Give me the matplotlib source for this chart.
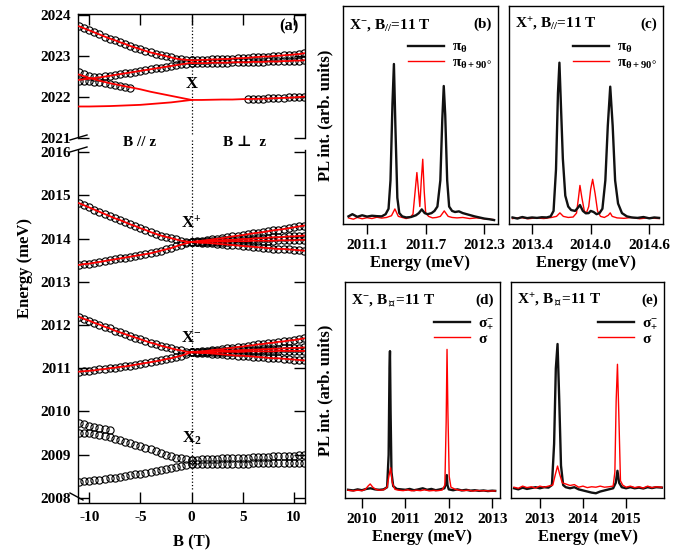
import numpy as np
import matplotlib
matplotlib.use('Agg')
import matplotlib.pyplot as plt
from matplotlib.lines import Line2D

plt.rcParams['font.family'] = ['Liberation Serif', 'DejaVu Serif']
plt.rcParams['font.weight'] = 'bold'
plt.rcParams['axes.labelweight'] = 'bold'
plt.rcParams['mathtext.fontset'] = 'custom'
plt.rcParams['mathtext.rm'] = 'Liberation Serif'
plt.rcParams['mathtext.it'] = 'Liberation Serif:italic'
plt.rcParams['mathtext.bf'] = 'Liberation Serif:bold'
plt.rcParams['mathtext.fallback'] = 'stix'
plt.rcParams['axes.unicode_minus'] = False

# ---------------- panel (a): energies vs field ----------------
B_left = np.arange(-11, 0.01, 0.5)   # B // z
B_right = np.arange(0, 11.01, 0.5)   # B perp z
B_fit_left = np.arange(-11, 0.01, 1.0)
B_fit_right = np.arange(0, 11.01, 1.0)

# neutral exciton X
x_up_l = [2023.73, 2023.68, 2023.63, 2023.58, 2023.53, 2023.48, 2023.43, 2023.39, 2023.34, 2023.30, 2023.25, 2023.21,
          2023.17, 2023.13, 2023.09, 2023.06, 2023.03, 2023.00, 2022.97, 2022.94, 2022.92, 2022.91, 2022.90]
x_mid_l = [2022.62, 2022.56, 2022.52, 2022.50, 2022.50, 2022.51, 2022.52, 2022.54, 2022.56, 2022.58, 2022.60, 2022.62,
           2022.64, 2022.66, 2022.68, 2022.70, 2022.72, 2022.74, 2022.76, 2022.78, 2022.80, 2022.82, 2022.84]
x_low_l = [2022.40, 2022.40, 2022.39, 2022.38, 2022.36, 2022.34, 2022.32, 2022.29, 2022.27, 2022.25, 2022.23]
x_up_r = [2022.90, 2022.90, 2022.91, 2022.91, 2022.92, 2022.92, 2022.93, 2022.93, 2022.94, 2022.95, 2022.95, 2022.96,
          2022.97, 2022.98, 2022.99, 2022.99, 2023.00, 2023.01, 2023.02, 2023.03, 2023.04, 2023.05, 2023.07]
x_mid_r = [2022.83, 2022.83, 2022.83, 2022.83, 2022.84, 2022.84, 2022.84, 2022.84, 2022.85, 2022.85, 2022.85, 2022.85,
           2022.86, 2022.86, 2022.86, 2022.87, 2022.87, 2022.87, 2022.88, 2022.88, 2022.89, 2022.89, 2022.90]
x_low_r = [2021.95, 2021.95, 2021.96, 2021.96, 2021.97, 2021.97, 2021.98, 2021.98, 2021.99, 2021.99, 2022.00, 2022.00]
# fitted curves for X
fit_x_b = [2022.42, 2022.45, 2022.48, 2022.52, 2022.56, 2022.60, 2022.64, 2022.68, 2022.72, 2022.76, 2022.80, 2022.84]
fit_x_c = [2022.55, 2022.47, 2022.40, 2022.34, 2022.29, 2022.24, 2022.19, 2022.13, 2022.08, 2022.03, 2021.98, 2021.93]
fit_x_d = [2021.77, 2021.77, 2021.775, 2021.78, 2021.79, 2021.80, 2021.81, 2021.83, 2021.85, 2021.87, 2021.90, 2021.93]
fit_x_e = [2021.93, 2021.93, 2021.935, 2021.94, 2021.94, 2021.95, 2021.955, 2021.96, 2021.97, 2021.98, 2021.99, 2022.01]

# positive trion X+
xp_up_l = [2014.82, 2014.77, 2014.72, 2014.67, 2014.62, 2014.57, 2014.52, 2014.47, 2014.43, 2014.38, 2014.33, 2014.29,
           2014.24, 2014.20, 2014.15, 2014.11, 2014.07, 2014.04, 2014.01, 2013.98, 2013.95, 2013.93, 2013.92]
xp_low_l = [2013.39, 2013.41, 2013.42, 2013.44, 2013.46, 2013.48, 2013.50, 2013.52, 2013.54, 2013.56, 2013.58, 2013.60,
            2013.62, 2013.64, 2013.66, 2013.69, 2013.72, 2013.75, 2013.78, 2013.82, 2013.86, 2013.89, 2013.92]
xp_r1 = [2013.92, 2013.935, 2013.95, 2013.965, 2013.98, 2013.995, 2014.01, 2014.03, 2014.05, 2014.065, 2014.08, 2014.10,
         2014.12, 2014.135, 2014.15, 2014.17, 2014.19, 2014.205, 2014.22, 2014.24, 2014.26, 2014.28, 2014.30]
xp_r2 = [2013.92, 2013.93, 2013.93, 2013.94, 2013.95, 2013.95, 2013.96, 2013.97, 2013.97, 2013.98, 2013.99, 2013.99,
         2014.00, 2014.01, 2014.01, 2014.02, 2014.03, 2014.03, 2014.04, 2014.05, 2014.05, 2014.06, 2014.07]
xp_r3 = [2013.92, 2013.92, 2013.92, 2013.93, 2013.93, 2013.93, 2013.93, 2013.93, 2013.94, 2013.94, 2013.94, 2013.94,
         2013.95, 2013.95, 2013.95, 2013.95, 2013.95, 2013.96, 2013.96, 2013.96, 2013.96, 2013.97, 2013.97]
xp_r4 = [2013.92, 2013.91, 2013.90, 2013.90, 2013.89, 2013.88, 2013.87, 2013.86, 2013.85, 2013.84, 2013.83, 2013.82,
         2013.81, 2013.80, 2013.79, 2013.78, 2013.77, 2013.76, 2013.76, 2013.75, 2013.74, 2013.73, 2013.72]

# negative trion X-
xm_up_l = [2012.19, 2012.14, 2012.10, 2012.05, 2012.01, 2011.96, 2011.92, 2011.87, 2011.83, 2011.79, 2011.75, 2011.71,
           2011.67, 2011.63, 2011.59, 2011.56, 2011.52, 2011.49, 2011.46, 2011.43, 2011.41, 2011.38, 2011.37]
xm_low_l = [2010.92, 2010.93, 2010.94, 2010.95, 2010.97, 2010.98, 2011.00, 2011.01, 2011.03, 2011.04, 2011.06, 2011.08,
            2011.10, 2011.12, 2011.14, 2011.16, 2011.18, 2011.21, 2011.23, 2011.26, 2011.29, 2011.33, 2011.37]
xm_r1 = [2011.37, 2011.38, 2011.39, 2011.40, 2011.42, 2011.43, 2011.44, 2011.46, 2011.47, 2011.49, 2011.50, 2011.52,
         2011.53, 2011.55, 2011.56, 2011.58, 2011.59, 2011.61, 2011.62, 2011.64, 2011.65, 2011.67, 2011.69]
xm_r2 = [2011.37, 2011.37, 2011.38, 2011.38, 2011.39, 2011.39, 2011.40, 2011.40, 2011.41, 2011.41, 2011.42, 2011.42,
         2011.43, 2011.43, 2011.44, 2011.44, 2011.45, 2011.45, 2011.46, 2011.46, 2011.47, 2011.47, 2011.48]
xm_r3 = [2011.37, 2011.37, 2011.37, 2011.37, 2011.37, 2011.38, 2011.38, 2011.38, 2011.38, 2011.38, 2011.38, 2011.39,
         2011.39, 2011.39, 2011.39, 2011.39, 2011.39, 2011.40, 2011.40, 2011.40, 2011.40, 2011.40, 2011.40]
xm_r4 = [2011.37, 2011.36, 2011.35, 2011.35, 2011.34, 2011.33, 2011.32, 2011.31, 2011.30, 2011.29, 2011.29, 2011.28,
         2011.27, 2011.26, 2011.25, 2011.24, 2011.23, 2011.23, 2011.22, 2011.21, 2011.20, 2011.19, 2011.18]

# X2 (no fit)
x2_up_l = [2009.73, 2009.70, 2009.67, 2009.64, 2009.62, 2009.59, 2009.57]
x2_mid_l = [2009.49, 2009.49, 2009.49, 2009.48, 2009.46, 2009.43, 2009.40, 2009.37, 2009.34, 2009.30, 2009.27, 2009.23,
            2009.20, 2009.16, 2009.12, 2009.08, 2009.04, 2009.00, 2008.96, 2008.93, 2008.91, 2008.89, 2008.88]
x2_low_l = [2008.36, 2008.38, 2008.39, 2008.41, 2008.42, 2008.44, 2008.45, 2008.47, 2008.48, 2008.50, 2008.52, 2008.54,
            2008.56, 2008.58, 2008.60, 2008.62, 2008.64, 2008.66, 2008.69, 2008.72, 2008.74, 2008.76, 2008.78]
x2_up_r = [2008.88, 2008.88, 2008.89, 2008.89, 2008.90, 2008.90, 2008.91, 2008.91, 2008.92, 2008.92, 2008.93, 2008.93,
           2008.94, 2008.94, 2008.95, 2008.95, 2008.96, 2008.96, 2008.96, 2008.97, 2008.97, 2008.98, 2008.98]
x2_low_r = [2008.78, 2008.78, 2008.78, 2008.78, 2008.78, 2008.78, 2008.79, 2008.79, 2008.79, 2008.79, 2008.79, 2008.79,
            2008.80, 2008.80, 2008.80, 2008.80, 2008.80, 2008.80, 2008.81, 2008.81, 2008.81, 2008.81, 2008.81]

# ---------------- spectra (b)-(e) ----------------
b_E_blk = [2010.91, 2010.95, 2011.0, 2011.05, 2011.1, 2011.15, 2011.2, 2011.25, 2011.29, 2011.32, 2011.34, 2011.36,
           2011.375, 2011.39, 2011.41, 2011.43, 2011.46, 2011.5, 2011.55, 2011.6, 2011.63, 2011.66, 2011.69, 2011.72,
           2011.76, 2011.79, 2011.82, 2011.85, 2011.87, 2011.885, 2011.90, 2011.92, 2011.94, 2011.97, 2012.0, 2012.04,
           2012.08, 2012.12, 2012.16, 2012.2, 2012.25, 2012.3, 2012.35, 2012.4]
b_I_blk = [0.035, 0.045, 0.033, 0.040, 0.034, 0.038, 0.036, 0.035, 0.045, 0.07, 0.20, 0.55,
           0.734, 0.45, 0.12, 0.05, 0.035, 0.030, 0.032, 0.04, 0.05, 0.067, 0.05, 0.045,
           0.05, 0.06, 0.08, 0.20, 0.48, 0.633, 0.50, 0.20, 0.08, 0.06, 0.055, 0.058,
           0.05, 0.045, 0.04, 0.035, 0.03, 0.025, 0.022, 0.018]
b_E_red = [2010.91, 2010.96, 2011.0, 2011.05, 2011.1, 2011.15, 2011.2, 2011.25, 2011.3, 2011.35, 2011.385, 2011.42,
           2011.46, 2011.5, 2011.54, 2011.57, 2011.59, 2011.61, 2011.625, 2011.64, 2011.655, 2011.67, 2011.685, 2011.70,
           2011.73, 2011.77, 2011.81, 2011.85, 2011.89, 2011.93, 2011.97, 2012.02, 2012.08, 2012.15, 2012.22, 2012.3, 2012.4]
b_I_red = [0.028, 0.022, 0.030, 0.024, 0.029, 0.025, 0.031, 0.027, 0.030, 0.038, 0.069, 0.035,
           0.030, 0.025, 0.030, 0.045, 0.14, 0.236, 0.16, 0.08, 0.20, 0.297, 0.15, 0.05,
           0.035, 0.028, 0.030, 0.035, 0.06, 0.035, 0.030, 0.028, 0.030, 0.025, 0.028, 0.024, 0.02]

c_E_blk = [2013.20, 2013.25, 2013.30, 2013.35, 2013.40, 2013.45, 2013.50, 2013.55, 2013.59, 2013.62, 2013.645, 2013.665,
           2013.68, 2013.695, 2013.715, 2013.74, 2013.77, 2013.80, 2013.84, 2013.87, 2013.89, 2013.92, 2013.95, 2013.98,
           2014.0, 2014.03, 2014.06, 2014.09, 2014.12, 2014.15, 2014.175, 2014.20, 2014.225, 2014.25, 2014.28, 2014.32,
           2014.37, 2014.42, 2014.48, 2014.54, 2014.60, 2014.65, 2014.70]
c_I_blk = [0.030, 0.025, 0.032, 0.027, 0.030, 0.028, 0.031, 0.03, 0.035, 0.06, 0.25, 0.60,
           0.74, 0.55, 0.30, 0.13, 0.08, 0.064, 0.06, 0.075, 0.087, 0.06, 0.049, 0.05,
           0.06, 0.055, 0.045, 0.05, 0.07, 0.20, 0.45, 0.63, 0.45, 0.20, 0.094, 0.05,
           0.035, 0.030, 0.028, 0.032, 0.026, 0.030, 0.028]
c_E_red = [2013.20, 2013.28, 2013.36, 2013.44, 2013.52, 2013.60, 2013.65, 2013.685, 2013.72, 2013.77, 2013.82, 2013.855,
           2013.875, 2013.89, 2013.91, 2013.935, 2013.955, 2013.98, 2014.0, 2014.02, 2014.045, 2014.07, 2014.10, 2014.14,
           2014.18, 2014.20, 2014.22, 2014.27, 2014.34, 2014.42, 2014.50, 2014.58, 2014.70]
c_I_red = [0.025, 0.030, 0.024, 0.028, 0.025, 0.03, 0.035, 0.051, 0.035, 0.03, 0.032, 0.05,
           0.12, 0.177, 0.12, 0.06, 0.049, 0.08, 0.16, 0.205, 0.14, 0.06, 0.035, 0.03,
           0.04, 0.051, 0.035, 0.028, 0.026, 0.030, 0.024, 0.028, 0.025]

d_E_blk = [2009.68, 2009.8, 2009.9, 2010.0, 2010.1, 2010.2, 2010.3, 2010.4, 2010.5, 2010.58, 2010.615, 2010.635,
           2010.646, 2010.66, 2010.68, 2010.72, 2010.8, 2010.9, 2011.0, 2011.1, 2011.2, 2011.3, 2011.4, 2011.5,
           2011.6, 2011.7, 2011.8, 2011.9, 2011.94, 2011.955, 2011.97, 2012.0, 2012.1, 2012.2, 2012.3, 2012.4,
           2012.5, 2012.6, 2012.7, 2012.8, 2012.9, 2013.0, 2013.07]
d_I_blk = [0.038, 0.035, 0.040, 0.036, 0.042, 0.045, 0.04, 0.038, 0.04, 0.05, 0.20, 0.60,
           0.68, 0.40, 0.12, 0.055, 0.042, 0.04, 0.038, 0.042, 0.036, 0.04, 0.045, 0.038,
           0.042, 0.036, 0.04, 0.045, 0.07, 0.106, 0.06, 0.04, 0.036, 0.04, 0.035, 0.038,
           0.034, 0.036, 0.033, 0.035, 0.032, 0.034, 0.033]
d_E_red = [2009.68, 2009.8, 2009.9, 2010.0, 2010.08, 2010.14, 2010.19, 2010.25, 2010.32, 2010.4, 2010.5, 2010.58,
           2010.62, 2010.66, 2010.70, 2010.76, 2010.85, 2010.95, 2011.05, 2011.15, 2011.25, 2011.35, 2011.45, 2011.55,
           2011.65, 2011.75, 2011.85, 2011.91, 2011.94, 2011.96, 2011.98, 2012.01, 2012.05, 2012.15, 2012.25, 2012.35,
           2012.45, 2012.55, 2012.65, 2012.75, 2012.85, 2012.95, 2013.07]
d_I_red = [0.036, 0.033, 0.036, 0.034, 0.04, 0.055, 0.065, 0.05, 0.04, 0.036, 0.038, 0.05,
           0.10, 0.14, 0.07, 0.04, 0.036, 0.034, 0.038, 0.033, 0.036, 0.034, 0.038, 0.033,
           0.035, 0.034, 0.037, 0.06, 0.35, 0.688, 0.40, 0.10, 0.05, 0.04, 0.036, 0.034,
           0.036, 0.032, 0.035, 0.033, 0.034, 0.032, 0.033]

e_E_blk = [2012.40, 2012.5, 2012.6, 2012.7, 2012.8, 2012.9, 2013.0, 2013.1, 2013.2, 2013.28, 2013.33, 2013.37,
           2013.41, 2013.45, 2013.49, 2013.54, 2013.6, 2013.7, 2013.8, 2013.9, 2014.0, 2014.1, 2014.2, 2014.3,
           2014.4, 2014.5, 2014.6, 2014.7, 2014.76, 2014.8, 2014.84, 2014.9, 2015.0, 2015.1, 2015.2, 2015.3,
           2015.4, 2015.5, 2015.6, 2015.7, 2015.83]
e_I_blk = [0.045, 0.040, 0.048, 0.042, 0.046, 0.05, 0.045, 0.05, 0.048, 0.06, 0.25, 0.60,
           0.713, 0.45, 0.15, 0.06, 0.05, 0.045, 0.05, 0.04, 0.035, 0.03, 0.025, 0.022,
           0.03, 0.035, 0.04, 0.045, 0.07, 0.126, 0.07, 0.05, 0.045, 0.05, 0.045, 0.048,
           0.044, 0.05, 0.046, 0.05, 0.048]
e_E_red = [2012.40, 2012.5, 2012.6, 2012.7, 2012.8, 2012.9, 2013.0, 2013.1, 2013.2, 2013.3, 2013.36, 2013.41,
           2013.46, 2013.52, 2013.6, 2013.7, 2013.8, 2013.9, 2014.0, 2014.1, 2014.2, 2014.3, 2014.4, 2014.5,
           2014.6, 2014.7, 2014.74, 2014.77, 2014.80, 2014.83, 2014.87, 2014.92, 2015.0, 2015.1, 2015.2, 2015.3,
           2015.4, 2015.5, 2015.6, 2015.7, 2015.83]
e_I_red = [0.05, 0.045, 0.055, 0.048, 0.052, 0.046, 0.055, 0.05, 0.055, 0.06, 0.11, 0.148,
           0.11, 0.07, 0.065, 0.058, 0.062, 0.05, 0.055, 0.048, 0.052, 0.05, 0.055, 0.05,
           0.052, 0.055, 0.12, 0.45, 0.619, 0.40, 0.08, 0.06, 0.05, 0.055, 0.048, 0.052,
           0.046, 0.055, 0.048, 0.052, 0.05]

W, H = 693, 557
RED = '#ff0000'


def rect(x0, y0, x1, y1):
     '''pixel box (top-left origin) -> figure fraction [l, b, w, h]'''
     return [x0 / W, 1 - y1 / H, (x1 - x0) / W, (y1 - y0) / H]


def circles(ax, b, e):
     ax.plot(b, e, 'o', ms=5.2, mfc='none', mec='k', mew=0.8, zorder=3)


def fit(ax, b, e):
     ax.plot(b, e, '-', color=RED, lw=1.3, zorder=4)


fig = plt.figure(figsize=(W / 100, H / 100), dpi=100)

ax_t = fig.add_axes(rect(78, 14, 305, 138))
ax_b = fig.add_axes(rect(78, 150, 305, 503))

# X branch
circles(ax_t, B_left, x_up_l)
circles(ax_t, B_left, x_mid_l)
circles(ax_t, B_left[:len(x_low_l)], x_low_l)
circles(ax_t, B_right, x_up_r)
circles(ax_t, B_right, x_mid_r)
circles(ax_t, B_right[-len(x_low_r):], x_low_r)
fit(ax_t, B_left, x_up_l)
fit(ax_t, B_fit_left, fit_x_b)
fit(ax_t, B_fit_left, fit_x_c)
fit(ax_t, B_fit_left, fit_x_d)
fit(ax_t, B_right, x_up_r)
fit(ax_t, B_right, x_mid_r)
fit(ax_t, B_fit_right, fit_x_e)

# trions
for e in [xp_up_l, xp_low_l, xm_up_l, xm_low_l]:
     circles(ax_b, B_left, e)
     fit(ax_b, B_left, e)
for e in [xp_r1, xp_r2, xp_r3, xp_r4, xm_r1, xm_r2, xm_r3, xm_r4]:
     circles(ax_b, B_right, e)
     fit(ax_b, B_right, e)
# X2
circles(ax_b, B_left[:len(x2_up_l)], x2_up_l)
circles(ax_b, B_left, x2_mid_l)
circles(ax_b, B_left, x2_low_l)
circles(ax_b, B_right, x2_up_r)
circles(ax_b, B_right, x2_low_r)

for ax in (ax_t, ax_b):
     ax.set_xlim(-11.1, 11.1)
     ax.set_xticks([-10, -5, 0, 5, 10])
     ax.tick_params(direction='in', length=8, width=1.0, labelsize=11, right=True, pad=5)
     for s in ax.spines.values():
          s.set_linewidth(1.0)
ax_t.set_ylim(2021.0, 2024.03)
ax_t.set_yticks([2021, 2022, 2023, 2024])
ax_t.tick_params(axis='x', top=True, bottom=False, labelbottom=False)
ax_t.spines['bottom'].set_visible(False)
ax_b.set_ylim(2007.88, 2016.05)
ax_b.set_yticks(range(2008, 2017))
ax_b.spines['top'].set_visible(False)
ax_b.tick_params(axis='x', pad=6)

ax_t.axvline(0, color='k', ls=':', lw=0.9, ymin=0.03)
ax_b.axvline(0, color='k', ls=':', lw=0.9, ymin=0.04, ymax=1.034, clip_on=False)

ax_t.text(0, 2022.32, 'X', ha='center', va='center', fontsize=12)
ax_b.text(0, 2014.35, r'X$^{+}$', ha='center', va='center', fontsize=12)
ax_b.text(0, 2011.71, r'X$^{-}$', ha='center', va='center', fontsize=12)
ax_b.text(0, 2009.38, r'X$_{2}$', ha='center', va='center', fontsize=12)
ax_t.text(0.97, 0.9, '(a)', transform=ax_t.transAxes, ha='right', va='center', fontsize=12)

fig.text(140 / W, 1 - 143 / H, 'B // z', ha='center', va='center', fontsize=11)
fig.text(245 / W, 1 - 143 / H, 'B ⊥  z', ha='center', va='center', fontsize=11)
fig.text(25 / W, 1 - 268 / H, 'Energy (meV)', rotation=90, ha='center', va='center', fontsize=12)
fig.text(192 / W, 1 - 542 / H, 'B (T)', ha='center', va='center', fontsize=12)

# axis break marks
for (x0, y0, x1, y1) in [(70, 140, 87, 135), (70, 152, 87, 147), (70, 493, 83, 500)]:
     fig.add_artist(Line2D([x0 / W, x1 / W], [1 - y0 / H, 1 - y1 / H], color='k', lw=1.0))


# ---------------- spectra ----------------
def spectrum(box, xlim, ticks, tick_fmt, blk, red, title, tag, labels, leg_anchor, red_on_top):
     ax = fig.add_axes(rect(*box))
     zb, zr = (2, 3) if red_on_top else (3, 2)
     lb, = ax.plot(blk[0], blk[1], color='#111111', lw=1.7, zorder=zb)
     lr, = ax.plot(red[0], red[1], color=RED, lw=1.0, zorder=zr)
     ax.set_xlim(*xlim)
     ax.set_ylim(0, 1)
     ax.set_yticks([])
     ax.set_xticks(ticks)
     ax.set_xticklabels([tick_fmt.format(t) for t in ticks])
     ax.tick_params(axis='x', direction='out', length=7, width=1.0, labelsize=11, pad=4)
     for s in ax.spines.values():
          s.set_linewidth(1.0)
     ax.set_xlabel('Energy (meV)', fontsize=12, labelpad=2)
     ax.text(0.04, 0.915, title, transform=ax.transAxes, ha='left', va='center', fontsize=11)
     ax.text(0.96, 0.915, tag, transform=ax.transAxes, ha='right', va='center', fontsize=11)
     ax.legend([lb, lr], labels, loc='upper right', bbox_to_anchor=leg_anchor, frameon=False,
               handlelength=2.4, handletextpad=0.5, labelspacing=0.05, borderaxespad=0,
               prop={'size': 11, 'weight': 'normal'})
     return ax


pi_labels = [r'$\mathrm{\pi_{\theta}}$', r'$\mathrm{\pi_{\theta+90°}}$']
sig_labels = [r'$\mathrm{\sigma_{+}^{-}}$', r'$\mathrm{\sigma}$']

spectrum((343, 6, 498, 224), (2010.854, 2012.44), [2011.1, 2011.7, 2012.3], '{:.1f}',
         (b_E_blk, b_I_blk), (b_E_red, b_I_red), r'X$^{-}$, B$_{//}$=11 T', '(b)', pi_labels, (1.0, 0.87), False)
spectrum((509, 6, 663, 224), (2013.164, 2014.74), [2013.4, 2014.0, 2014.6], '{:.1f}',
         (c_E_blk, c_I_blk), (c_E_red, c_I_red), r'X$^{+}$, B$_{//}$=11 T', '(c)', pi_labels, (1.0, 0.87), False)
spectrum((345, 282, 500, 498), (2009.61, 2013.18), [2010, 2011, 2012, 2013], '{:d}',
         (d_E_blk, d_I_blk), (d_E_red, d_I_red), r'X$^{-}$, B$_{\perp}$=11 T', '(d)', sig_labels, (1.0, 0.87), True)
spectrum((511, 282, 664, 498), (2012.33, 2015.88), [2013, 2014, 2015], '{:d}',
         (e_E_blk, e_I_blk), (e_E_red, e_I_red), r'X$^{+}$, B$_{\perp}$=11 T', '(e)', sig_labels, (1.0, 0.87), True)

fig.text(325 / W, 1 - 115 / H, 'PL int. (arb. units)', rotation=90, ha='center', va='center', fontsize=12)
fig.text(325 / W, 1 - 390 / H, 'PL int. (arb. units)', rotation=90, ha='center', va='center', fontsize=12)

fig.savefig('out.png', dpi=100)
